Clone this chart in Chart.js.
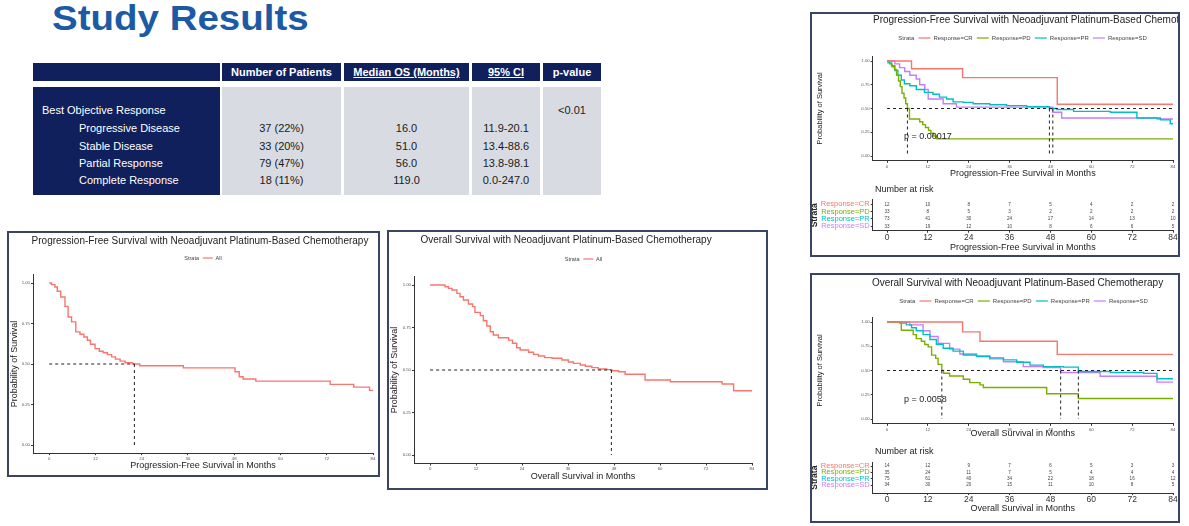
<!DOCTYPE html>
<html><head><meta charset="utf-8">
<script src="https://cdn.jsdelivr.net/npm/chart.js@4.4.1/dist/chart.umd.min.js"></script>
<style>
html,body{margin:0;padding:0;background:#fff;width:1189px;height:526px;overflow:hidden;font-family:"Liberation Sans",Arial,sans-serif}
.abs{position:absolute}
#title{left:52px;top:0px;font-size:35px;font-weight:bold;color:#1d5aa6;line-height:35px;white-space:nowrap;transform:scaleX(1.1);transform-origin:0 0}
.navy{background:#10205c}
.grey{background:#d8dce2}
.h{color:#fff;font-weight:bold;font-size:11px;line-height:18px;text-align:center;white-space:nowrap}
.t{font-size:11px;line-height:16px;white-space:nowrap}
.frame{position:absolute;border:2px solid #3a4565;overflow:hidden;background:#fff}
.frame canvas{position:absolute}
</style></head>
<body>
<div id="title" class="abs">Study Results</div>
<div id="tbl"></div>

<div class="frame" style="left:7px;top:231px;width:369px;height:242px"><canvas id="cA" width="369" height="242" style="left:0;top:0;width:369px;height:242px"></canvas></div>
<div class="frame" style="left:387px;top:230px;width:377px;height:256px"><canvas id="cB" width="377" height="256" style="left:0;top:0;width:377px;height:256px"></canvas></div>
<div class="frame" style="left:810px;top:12px;width:366px;height:241px">
  <canvas id="cC1" width="380" height="170" style="left:0;top:0;width:380px;height:170px"></canvas>
  <canvas id="cC2" width="380" height="71" style="left:0;top:170px;width:380px;height:71px"></canvas>
</div>
<div class="frame" style="left:810px;top:273px;width:366px;height:246px">
  <canvas id="cD1" width="380" height="165" style="left:0;top:0;width:380px;height:165px"></canvas>
  <canvas id="cD2" width="380" height="81" style="left:0;top:165px;width:380px;height:81px"></canvas>
</div>

<script>
// ================= DATA =================
const tableHeaders = ['', 'Number of Patients', 'Median OS (Months)', '95% CI', 'p-value'];
const groupLabel = 'Best Objective Response';
const responseLabels = ['Progressive Disease', 'Stable Disease', 'Partial Response', 'Complete Response'];
const patientsCol = ['37 (22%)', '33 (20%)', '79 (47%)', '18 (11%)'];
const medianOsCol = ['16.0', '51.0', '56.0', '119.0'];
const ciCol = ['11.9-20.1', '13.4-88.6', '13.8-98.1', '0.0-247.0'];
const pValueText = '<0.01';

const monthTicks = [0, 12, 24, 36, 48, 60, 72, 84];
const survTicks = [0, 0.25, 0.5, 0.75, 1];
const strataNames = ['Response=CR', 'Response=PD', 'Response=PR', 'Response=SD'];
const strataColors = ['#F8766D', '#7CAE00', '#00BFC4', '#C77CFF'];

// PFS, all patients
const pfsAllT = [0, 0.6, 1.5, 2.1, 3.0, 4.1, 4.9, 5.8, 6.9, 8.0, 9.0, 9.9, 10.7, 11.9, 13.0, 14.0, 15.1, 16.2, 17.2, 18.4, 19.7, 21.6, 23.5, 34.8, 48.2, 49.3, 50.3, 53.6, 72.9, 79.0, 83.1, 84];
const pfsAllS = [1.0, 0.99, 0.975, 0.949, 0.914, 0.856, 0.79, 0.76, 0.698, 0.684, 0.667, 0.647, 0.622, 0.595, 0.579, 0.569, 0.558, 0.544, 0.53, 0.518, 0.508, 0.50, 0.489, 0.476, 0.452, 0.421, 0.407, 0.394, 0.374, 0.357, 0.337, 0.337];
const pfsAllMedian = 22.1;

// OS, all patients
const osAllT = [0, 3.9, 4.8, 5.7, 7.0, 7.8, 8.7, 10.0, 11.1, 11.7, 13.1, 13.9, 14.8, 15.7, 16.5, 17.8, 20.5, 21.5, 22.6, 23.5, 25.7, 27.0, 28.3, 29.9, 31.8, 34.4, 36.1, 37.4, 39.2, 40.5, 42.2, 43.9, 46.1, 47.4, 49.2, 50.9, 56.1, 62.7, 76.2, 79.2, 84];
const osAllS = [1.0, 0.99, 0.98, 0.971, 0.951, 0.931, 0.912, 0.888, 0.873, 0.839, 0.82, 0.79, 0.759, 0.725, 0.706, 0.69, 0.676, 0.657, 0.631, 0.618, 0.604, 0.592, 0.582, 0.573, 0.569, 0.559, 0.547, 0.539, 0.529, 0.522, 0.514, 0.506, 0.502, 0.496, 0.49, 0.475, 0.441, 0.431, 0.418, 0.378, 0.378];
const osAllMedian = 47.3;

// PFS by response
const pfsCrT = [0, 7.2, 22.2, 50.0, 84];
const pfsCrS = [1, 0.919, 0.825, 0.544, 0.544];
const pfsPdT = [0, 0.8, 1.5, 2.2, 2.8, 3.4, 3.9, 4.4, 5.0, 5.5, 6.0, 6.6, 9.6, 10.5, 11.3, 12.2, 12.9, 13.7, 14.5, 84];
const pfsPdS = [1, 0.97, 0.94, 0.91, 0.85, 0.79, 0.73, 0.66, 0.61, 0.55, 0.50, 0.39, 0.36, 0.33, 0.30, 0.27, 0.24, 0.21, 0.18, 0.18];
const pfsPrT = [0, 0.3, 1.3, 2.3, 3.2, 4.2, 5.1, 6.7, 8.6, 11.0, 13.5, 15.4, 17.5, 19.4, 22.4, 25.3, 30.2, 35.1, 41.0, 47.7, 49.9, 54.8, 65.6, 73.4, 80.3, 83.2, 84];
const pfsPrS = [1, 0.98, 0.95, 0.90, 0.85, 0.80, 0.76, 0.74, 0.70, 0.67, 0.65, 0.62, 0.60, 0.57, 0.565, 0.55, 0.54, 0.53, 0.52, 0.50, 0.49, 0.47, 0.46, 0.40, 0.38, 0.34, 0.34];
const pfsSdT = [0, 2.3, 3.7, 5.2, 6.7, 8.6, 9.6, 11.1, 12.1, 16.5, 20.4, 48.7, 51.3, 79.3, 84];
const pfsSdS = [1, 0.97, 0.93, 0.89, 0.85, 0.81, 0.75, 0.70, 0.60, 0.55, 0.515, 0.46, 0.40, 0.39, 0.39];
const pfsMedians = [6.0, 47.7, 48.7];

// OS by response
const osCrT = [0, 22.2, 27.3, 50.0, 84];
const osCrS = [1, 0.898, 0.802, 0.666, 0.666];
const osPdT = [0, 4.2, 7.7, 8.6, 10.1, 11.1, 12.1, 13.1, 14.3, 15.0, 16.1, 16.6, 18.4, 22.4, 24.3, 27.3, 28.3, 46.9, 56.2, 84];
const osPdS = [1, 0.915, 0.87, 0.829, 0.802, 0.768, 0.744, 0.659, 0.625, 0.563, 0.50, 0.471, 0.444, 0.41, 0.375, 0.352, 0.324, 0.26, 0.212, 0.212];
const osPrT = [0, 3.7, 5.7, 7.2, 8.6, 10.6, 12.6, 14.5, 16.5, 19.4, 22.4, 26.3, 30.2, 34.2, 38.1, 42.0, 45.9, 51.8, 56.2, 65.6, 75.4, 79.3, 84];
const osPrS = [1, 0.99, 0.97, 0.94, 0.91, 0.87, 0.82, 0.77, 0.73, 0.70, 0.66, 0.645, 0.63, 0.61, 0.585, 0.555, 0.54, 0.535, 0.49, 0.48, 0.47, 0.415, 0.415];
const osSdT = [0, 6.7, 10.6, 12.6, 15.0, 18.4, 21.4, 26.3, 30.2, 34.2, 40.0, 45.9, 51.0, 62.6, 79.3, 84];
const osSdS = [1, 0.97, 0.91, 0.85, 0.78, 0.72, 0.67, 0.65, 0.62, 0.59, 0.54, 0.53, 0.48, 0.44, 0.38, 0.38];
const osMedians = [16.1, 51.0, 56.2];

// Number at risk
const pfsRiskCR = [12, 10, 8, 7, 5, 4, 2, 2];
const pfsRiskPD = [33, 8, 5, 3, 2, 2, 2, 2];
const pfsRiskPR = [73, 41, 30, 24, 17, 14, 13, 10];
const pfsRiskSD = [33, 19, 12, 10, 8, 6, 6, 5];
const osRiskCR = [14, 12, 9, 7, 6, 5, 3, 3];
const osRiskPD = [35, 24, 11, 7, 5, 4, 4, 4];
const osRiskPR = [75, 61, 40, 34, 22, 18, 16, 12];
const osRiskSD = [34, 30, 20, 15, 11, 10, 8, 5];

const pfsPText = 'p = 0.00017';
const osPText = 'p = 0.0058';

// ================= TABLE (HTML) =================
(function(){
  const tbl = document.getElementById('tbl');
  const cols = [[33,220],[222,341],[344,469],[472,540],[543,601]];
  const add = (cls, l, t, w, h, txt, extra) => {
    const d = document.createElement('div');
    d.className = 'abs ' + cls;
    d.style.left = l + 'px'; d.style.top = t + 'px';
    if (w != null) d.style.width = w + 'px';
    if (h != null) d.style.height = h + 'px';
    if (txt != null) d.textContent = txt;
    if (extra) Object.assign(d.style, extra);
    tbl.appendChild(d);
  };
  cols.forEach((c, i) => {
    add('navy h', c[0], 63, c[1]-c[0], 18, tableHeaders[i], (i===2||i===3)?{textDecoration:'underline'}:null);
    add(i===0?'navy':'grey', c[0], 87, c[1]-c[0], 108, null);
  });
  const rowC = [128, 146, 163, 180];
  add('t', 42, 110-8, null, null, groupLabel, {color:'#fff'});
  responseLabels.forEach((s, i) => add('t', 79, rowC[i]-8, null, null, s, {color:'#fff'}));
  const colVals = [patientsCol, medianOsCol, ciCol];
  colVals.forEach((arr, k) => {
    const c = cols[k+1];
    arr.forEach((v, i) => add('t', c[0], rowC[i]-8, c[1]-c[0], null, v, {color:'#1a1a1a', textAlign:'center'}));
  });
  add('t', cols[4][0], 110-8, cols[4][1]-cols[4][0], null, pValueText, {color:'#1a1a1a', textAlign:'center'});
})();

// ================= CHARTS =================
const FAM = '"Liberation Sans", Arial, sans-serif';
Chart.defaults.font.family = FAM;

const decor = {
  id: 'decor',
  afterDraw(chart, args, o) {
    const c = chart.ctx; c.save();
    c.textBaseline = 'middle';
    const txt = (T) => {
      c.font = (T.bold ? 'bold ' : '') + T.size + 'px ' + FAM;
      c.fillStyle = T.color || '#222';
      c.textAlign = T.align || 'center';
      c.fillText(T.text, T.x, T.y);
    };
    if (o.title) txt(o.title);
    if (o.heading) txt(o.heading);
    if (o.legend) {
      const L = o.legend;
      c.font = L.size + 'px ' + FAM;
      const g1 = L.size * 0.7, g2 = L.size * 0.5;
      let total = c.measureText(L.lead).width;
      L.items.forEach(it => { total += g1 + L.line + g2 + c.measureText(it.text).width; });
      let x = L.x - total / 2;
      c.textAlign = 'left'; c.fillStyle = '#444';
      c.fillText(L.lead, x, L.y);
      x += c.measureText(L.lead).width;
      L.items.forEach(it => {
        x += g1;
        c.strokeStyle = it.color; c.lineWidth = 1.2;
        c.beginPath(); c.moveTo(x, L.y); c.lineTo(x + L.line, L.y); c.stroke();
        x += L.line + g2;
        c.fillStyle = '#444';
        c.fillText(it.text, x, L.y);
        x += c.measureText(it.text).width;
      });
    }
    if (o.pval) {
      const xs = chart.scales.x, ys = chart.scales.y;
      c.font = o.pval.size + 'px ' + FAM; c.fillStyle = '#222'; c.textAlign = 'left';
      c.fillText(o.pval.text, xs.getPixelForValue(o.pval.x), ys.getPixelForValue(o.pval.y));
    }
    c.restore();
  }
};

const riskText = {
  id: 'riskText',
  afterDatasetsDraw(chart) {
    const c = chart.ctx; c.save();
    c.font = '4.6px ' + FAM; c.fillStyle = '#444'; c.textAlign = 'center'; c.textBaseline = 'middle';
    chart.data.datasets.forEach((ds, di) => {
      chart.getDatasetMeta(di).data.forEach((el, i) => c.fillText(String(ds.data[i].n), el.x, el.y));
    });
    c.restore();
  }
};

const pts = (t, s) => t.map((v, i) => ({x: v, y: s[i]}));
// Kaplan-Meier: hold previous value until next time, then drop (horizontal first)
const kmLine = (t, s, color, w) => ({data: pts(t, s), borderColor: color, borderWidth: w, stepped: 'before', pointRadius: 0, fill: false});
const dash = (a, b) => ({data: [a, b], borderColor: '#222', borderWidth: 1, borderDash: [3, 3], pointRadius: 0, fill: false, stepped: false});

function axisCommon(tickSize, tickColor) {
  return {
    grid: {display: true, drawOnChartArea: false, drawTicks: true, tickLength: 2, color: '#333'},
    border: {display: true, color: '#333', width: 1},
    ticks: {font: {size: tickSize}, color: tickColor, padding: 1, maxRotation: 0, autoSkip: false}
  };
}

function kmChart(id, o) {
  const ax = axisCommon(4.3, '#555');
  return new Chart(document.getElementById(id), {
    type: 'line',
    data: {datasets: o.datasets},
    options: {
      responsive: false, animation: false, devicePixelRatio: 1,
      layout: {padding: {left: 0, top: o.plotT, right: o.W - o.plotR, bottom: 0}},
      plugins: {legend: {display: false}, tooltip: {enabled: false}, decor: o.decor},
      scales: {
        x: Object.assign({}, ax, {
          type: 'linear', min: -4.2, max: 84,
          afterBuildTicks: s => { s.ticks = monthTicks.map(v => ({value: v})); },
          afterFit: s => { s.height = o.H - o.plotB; },
          title: {display: true, text: o.xTitle, font: {size: 9}, color: '#222', padding: {top: 0, bottom: o.xPad}}
        }),
        y: Object.assign({}, ax, {
          type: 'linear', min: -0.05, max: 1.05,
          afterBuildTicks: s => { s.ticks = survTicks.map(v => ({value: v})); },
          afterFit: s => { s.width = o.plotL; },
          ticks: Object.assign({}, ax.ticks, {callback: v => Number(v).toFixed(2)}),
          title: {display: true, text: 'Probability of Survival', font: {size: o.yTitleSize}, color: '#222', padding: {top: o.yPad, bottom: 0}}
        })
      }
    },
    plugins: [decor]
  });
}

function riskChart(id, o) {
  const ax = axisCommon(8.5, '#333');
  const lists = o.risk;
  const datasets = lists.map((arr, k) => ({
    data: monthTicks.map((t, i) => ({x: t, y: 4 - k, n: arr[i]})),
    showLine: false, pointRadius: 0, borderColor: 'transparent'
  }));
  return new Chart(document.getElementById(id), {
    type: 'scatter',
    data: {datasets},
    options: {
      responsive: false, animation: false, devicePixelRatio: 1,
      layout: {padding: {left: 0, top: o.plotT, right: o.W - o.plotR, bottom: 0}},
      plugins: {legend: {display: false}, tooltip: {enabled: false}, decor: {heading: o.heading}},
      scales: {
        x: Object.assign({}, ax, {
          type: 'linear', min: -4.2, max: 84,
          afterBuildTicks: s => { s.ticks = monthTicks.map(v => ({value: v})); },
          afterFit: s => { s.height = o.H - o.plotB; },
          ticks: Object.assign({}, ax.ticks, {padding: 0}),
          title: {display: true, text: o.xTitle, font: {size: 9}, color: '#222', padding: {top: 0, bottom: o.xPad}}
        }),
        y: Object.assign({}, ax, {
          type: 'linear', min: o.yMin, max: o.yMax,
          afterBuildTicks: s => { s.ticks = [1, 2, 3, 4].map(v => ({value: v})); },
          afterFit: s => { s.width = o.plotL; },
          ticks: Object.assign({}, ax.ticks, {
            font: {size: 7.5},
            callback: v => strataNames[4 - v],
            color: c => strataColors[4 - c.tick.value]
          }),
          title: {display: true, text: 'Strata', font: {size: 8.5, weight: 'bold'}, color: '#222', padding: {top: -2.1, bottom: 0}}
        })
      }
    },
    plugins: [decor, riskText]
  });
}

const allLegend = (x, y) => ({lead: 'Strata', items: [{text: 'All', color: '#F8766D'}], size: 5.5, line: 10, x, y});
const strLegend = (x, y) => ({lead: 'Strata', items: strataNames.map((s, i) => ({text: s, color: strataColors[i]})), size: 6, line: 12, x, y});

// A: PFS all
kmChart('cA', {
  W: 369, H: 242, plotL: 24, plotR: 364, plotT: 41.9, plotB: 220.1, xPad: 3.6, yPad: 0.6, yTitleSize: 9,
  xTitle: 'Progression-Free Survival in Months',
  datasets: [
    dash({x: 0, y: 0.5}, {x: pfsAllMedian, y: 0.5}),
    dash({x: pfsAllMedian, y: 0.5}, {x: pfsAllMedian, y: 0}),
    kmLine(pfsAllT, pfsAllS, '#F8766D', 1.4)
  ],
  decor: {title: {text: 'Progression-Free Survival with Neoadjuvant Platinum-Based Chemotherapy', size: 10, x: 191, y: 8},
          legend: allLegend(194, 25)}
});

// B: OS all
kmChart('cB', {
  W: 377, H: 256, plotL: 25, plotR: 363, plotT: 44.5, plotB: 231.5, xPad: 5.6, yPad: 0.6, yTitleSize: 9,
  xTitle: 'Overall Survival in Months',
  datasets: [
    dash({x: 0, y: 0.5}, {x: osAllMedian, y: 0.5}),
    dash({x: osAllMedian, y: 0.5}, {x: osAllMedian, y: 0}),
    kmLine(osAllT, osAllS, '#F8766D', 1.4)
  ],
  decor: {title: {text: 'Overall Survival with Neoadjuvant Platinum-Based Chemotherapy', size: 10, x: 177, y: 8},
          legend: allLegend(194.5, 27)}
});

function strataSets(curves, medians) {
  const sets = [dash({x: 0, y: 0.5}, {x: 84, y: 0.5})];
  medians.forEach(m => sets.push(dash({x: m, y: 0.5}, {x: m, y: 0})));
  curves.forEach((cv, i) => sets.push(kmLine(cv[0], cv[1], strataColors[i], 1.4)));
  return sets;
}

// C: PFS by response
kmChart('cC1', {
  W: 380, H: 170, plotL: 60.7, plotR: 361, plotT: 42.25, plotB: 146.75, xPad: 4.6, yPad: 3.5, yTitleSize: 7.5,
  xTitle: 'Progression-Free Survival in Months',
  datasets: strataSets([[pfsCrT, pfsCrS], [pfsPdT, pfsPdS], [pfsPrT, pfsPrS], [pfsSdT, pfsSdS]], pfsMedians),
  decor: {title: {text: 'Progression-Free Survival with Neoadjuvant Platinum-Based Chemotherapy', size: 10, x: 61, y: 6, align: 'left'},
          legend: strLegend(210.5, 24),
          pval: {text: pfsPText, x: 5, y: 0.2, size: 9}}
});
riskChart('cC2', {
  W: 380, H: 71, plotL: 60.7, plotR: 361, plotT: 15.9, plotB: 46.7, xPad: 1.6, yMin: 0.4, yMax: 4.6,
  xTitle: 'Progression-Free Survival in Months',
  risk: [pfsRiskCR, pfsRiskPD, pfsRiskPR, pfsRiskSD],
  heading: {text: 'Number at risk', size: 9, x: 63, y: 6, align: 'left'}
});

// D: OS by response
kmChart('cD1', {
  W: 380, H: 165, plotL: 60.7, plotR: 361, plotT: 42.15, plotB: 148.85, xPad: 0.6, yPad: 3.5, yTitleSize: 7.5,
  xTitle: 'Overall Survival in Months',
  datasets: strataSets([[osCrT, osCrS], [osPdT, osPdS], [osPrT, osPrS], [osSdT, osSdS]], osMedians),
  decor: {title: {text: 'Overall Survival with Neoadjuvant Platinum-Based Chemotherapy', size: 10, x: 205.5, y: 8},
          legend: strLegend(211.5, 26),
          pval: {text: osPText, x: 5, y: 0.2, size: 9}}
});
riskChart('cD2', {
  W: 380, H: 81, plotL: 60.7, plotR: 361, plotT: 22.3, plotB: 53, xPad: 6.6, yMin: -0.25, yMax: 4.6,
  xTitle: 'Overall Survival in Months',
  risk: [osRiskCR, osRiskPD, osRiskPR, osRiskSD],
  heading: {text: 'Number at risk', size: 9, x: 63, y: 12, align: 'left'}
});
</script>
</body></html>
